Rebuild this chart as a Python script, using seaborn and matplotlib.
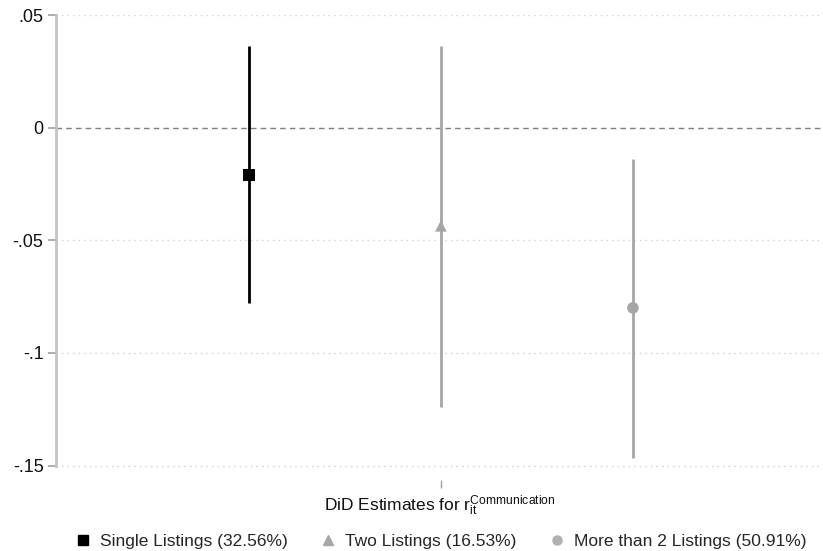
import matplotlib
matplotlib.use("Agg")
import matplotlib.pyplot as plt
import seaborn as sns
import pandas as pd
import numpy as np

groups = ["Single Listings (32.56%)", "Two Listings (16.53%)", "More than 2 Listings (50.91%)"]
estimates = [-0.0209, -0.0436, -0.0800]
ci_low = [-0.0778, -0.1240, -0.1467]
ci_high = [0.0364, 0.0364, -0.0138]
yticks = [0.05, 0, -0.05, -0.1, -0.15]
ytick_labels = [".05", "0", "-.05", "-.1", "-.15"]

colors = ["#000000", "#a6a6a6", "#a6a6a6"]
markers = ["s", "^", "o"]

sns.set_theme(style="white")
plt.rcParams["font.family"] = ["Liberation Sans", "DejaVu Sans"]
plt.rcParams["mathtext.fontset"] = "custom"
plt.rcParams["mathtext.rm"] = "Liberation Sans"
plt.rcParams["mathtext.it"] = "Liberation Sans:italic"

df = pd.DataFrame({"group": groups, "est": estimates, "lo": ci_low, "hi": ci_high})
df["pos"] = np.arange(len(groups)) - 1

fig = plt.figure(figsize=(8.23, 5.51), dpi=100)
ax = fig.add_axes([56/823, 1 - 480/551, 1 - 56/823, 465/551])

# reference lines / grid
for t in yticks:
    if t == 0:
        ax.axhline(t, color="#7f7f7f", lw=1.0, ls=(0, (4, 3)), zorder=1)
    else:
        ax.axhline(t, color="#d0d0d0", lw=1.0, ls=(0, (1, 3)), zorder=1)

ax.vlines(df["pos"], df["lo"], df["hi"], colors=colors, lw=2.0, zorder=2)
sns.scatterplot(data=df, x="pos", y="est", hue="group", style="group",
                palette=dict(zip(groups, colors)), markers=dict(zip(groups, markers)),
                s=70, edgecolor="none", ax=ax, zorder=3, legend=False)

ax.set_xlim(-2.005, 1.99)
ax.set_ylim(-0.1564, 0.05)
ax.set_yticks(yticks)
ax.set_yticklabels(ytick_labels, fontsize=13, color="#111111")
ax.set_xticks([0])
ax.set_xticklabels([""])
ax.tick_params(axis="y", length=6, width=1.2, color="#a0a0a0", pad=3, left=True)
ax.tick_params(axis="x", length=6, width=1.0, color="#a0a0a0", bottom=True, pad=0)

for s in ["top", "right", "bottom"]:
    ax.spines[s].set_visible(False)
ax.spines["left"].set_color("#c4c4c4")
ax.spines["left"].set_linewidth(2.0)
ax.spines["left"].set_bounds(-0.15, 0.05)

ax.set_xlabel(r"DiD Estimates for r$_{\mathrm{it}}^{\mathrm{Communication}}$",
              fontsize=12.5, color="#111111", labelpad=4)
ax.set_ylabel("")

handles = [plt.Line2D([], [], marker=m, color=c, ls="none", markersize=7 if m != "o" else 6.5)
           for m, c in zip(markers, ["#000000", "#a6a6a6", "#b0b0b0"])]
fig.legend(handles, groups, loc="center", bbox_to_anchor=(0.535, 1 - 541/551),
           ncol=3, frameon=False, fontsize=12.5, handlelength=1.0, handletextpad=0.5,
           columnspacing=1.8)

fig.savefig("out.png", dpi=100)
